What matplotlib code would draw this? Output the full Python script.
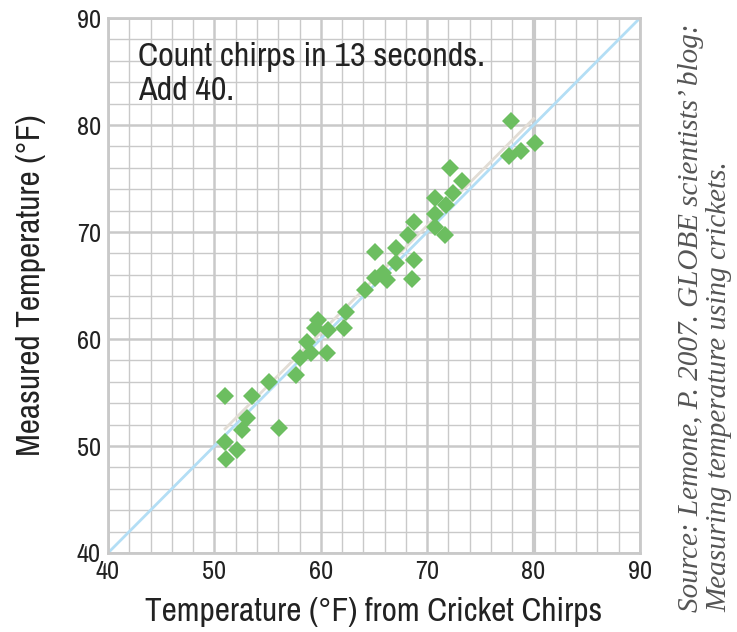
import numpy as np
import matplotlib
matplotlib.use("Agg")
import matplotlib.pyplot as plt
from matplotlib import font_manager

# cricket chirp temperature vs measured temperature
chirp_temp = [51.0, 53.5, 55.1, 53.1, 52.6, 56.1, 51.0, 52.1, 51.1, 57.7,
              58.0, 58.7, 59.1, 60.6, 59.5, 59.7, 60.7, 62.2, 62.4, 64.2,
              65.1, 65.8, 66.2, 65.1, 67.1, 67.1, 68.8, 68.6, 68.2, 68.8,
              70.7, 71.7, 70.7, 71.8, 70.7, 72.4, 73.3, 72.1, 77.7, 78.8,
              80.1, 77.9]
measured_temp = [54.7, 54.7, 56.0, 52.6, 51.5, 51.7, 50.4, 49.6, 48.8, 56.6,
                 58.2, 59.7, 58.7, 58.7, 61.0, 61.8, 60.8, 61.0, 62.5, 64.6,
                 65.7, 66.2, 65.5, 68.1, 67.1, 68.5, 67.4, 65.6, 69.7, 70.9,
                 70.5, 69.7, 71.7, 72.5, 73.2, 73.6, 74.8, 76.0, 77.1, 77.6,
                 78.3, 80.4]
trend_x = [51, 80]
trend_y = [51.6, 80.6]
ideal = [40, 90]

ticks = [40, 50, 60, 70, 80, 90]

# look for a narrow sans; fall back to condensed DejaVu or plain DejaVu
fonts = font_manager.fontManager.ttflist
sans = None
for f in fonts:
    if "Narrow" in f.name or "Condensed" in f.name:
        sans = f.name
        break
stretch = "normal"
if sans is None:
    sans = "DejaVu Sans"
    if any(f.name == "DejaVu Sans" and f.stretch in ("condensed", 300, "semi-condensed") for f in fonts):
        stretch = "condensed"
plt.rcParams['font.family'] = [sans, 'DejaVu Sans']
plt.rcParams['font.stretch'] = stretch

fig = plt.figure(figsize=(7.37, 6.32), dpi=100)
ax = fig.add_axes([0.1465, 0.125, 0.7219, 0.8465])

grid_c = "#c9c9c9"
for v in np.arange(40, 91, 2):
    if v % 10 == 0:
        lw = 3.0 if v == 80 else 1.8
    else:
        lw = 1.0
    ax.axvline(v, color=grid_c, lw=lw, zorder=0)
    ax.axhline(v, color=grid_c, lw=(1.8 if v % 10 == 0 else 1.0), zorder=0)

ax.plot(ideal, ideal, color="#b3def5", lw=2, zorder=2)
ax.plot(trend_x, trend_y, color="#e2ddd5", lw=2, zorder=2)
ax.plot(chirp_temp, measured_temp, linestyle="none", marker="D", ms=9,
        color="#6cbe60", markeredgewidth=0, zorder=3)

ax.set_xlim(40, 90)
ax.set_ylim(40, 90)
ax.set_xticks(ticks)
ax.set_yticks(ticks)
ax.tick_params(length=0, labelsize=19, pad=5, colors="#222222")
for s in ax.spines.values():
    s.set_color(grid_c)
    s.set_linewidth(2)

ax.set_xlabel("Temperature (°F) from Cricket Chirps", fontsize=24, color="#222222", labelpad=10)
ax.set_ylabel("Measured Temperature (°F)", fontsize=24, color="#222222", labelpad=22)

ax.text(42.8, 87.8, "Count chirps in 13 seconds.\nAdd 40.", fontsize=24.5,
        color="#222222", va="top", ha="left", linespacing=1.2, zorder=4)

fig.text(0.957, 0.032, "Source: Lemone, P. 2007. GLOBE scientists’ blog:\nMeasuring temperature using crickets.",
         rotation=90, fontsize=21, family="Liberation Serif", style="italic",
         color="#555555", va="bottom", ha="center", linespacing=1.1,
         multialignment="left")

fig.savefig("out.png", dpi=100)
